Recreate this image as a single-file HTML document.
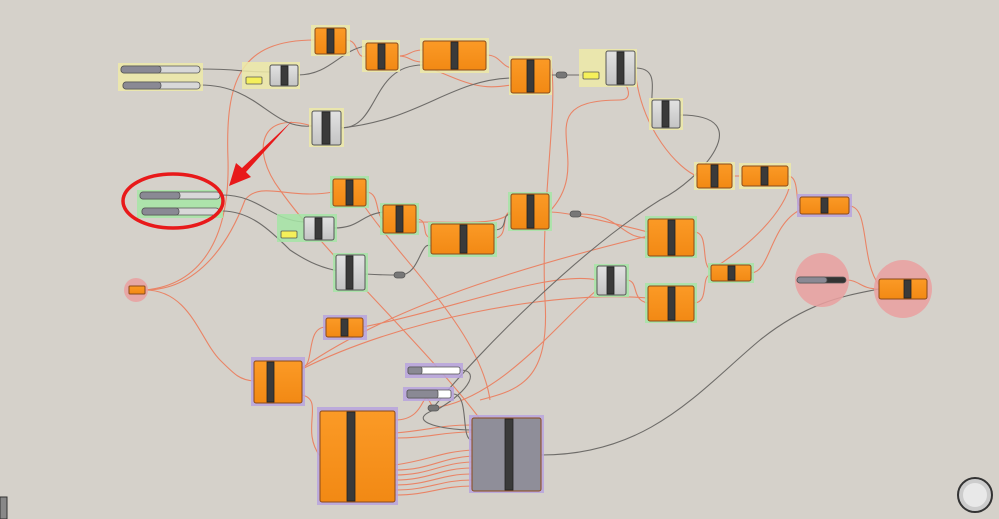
<!DOCTYPE html><html><head><style>body{margin:0;background:#d5d1ca}svg{display:block}</style></head><body>
<svg width="999" height="519" viewBox="0 0 999 519" xmlns="http://www.w3.org/2000/svg">
<rect width="999" height="519" fill="#d5d1ca"/>
<defs>
<linearGradient id="og" x1="0" y1="0" x2="0" y2="1"><stop offset="0" stop-color="#fb9a26"/><stop offset="1" stop-color="#f28914"/></linearGradient>
<linearGradient id="gg" x1="0" y1="0" x2="0" y2="1"><stop offset="0" stop-color="#e2e2e2"/><stop offset="1" stop-color="#c4c4c4"/></linearGradient>
</defs>
<!-- wires -->
<g fill="none" stroke="#ec7c5c" stroke-width="1.1" opacity="0.9">
<path d="M315 40 C240 40 225 80 228 160 C230 240 200 285 145 290"/>
<path d="M346 40 C360 40 355 60 366 56"/>
<path d="M398 56 C410 56 410 50 423 50"/>
<path d="M398 56 C410 56 410 62 423 62"/>
<path d="M486 55 C500 55 500 65 511 68"/>
<path d="M423 65 C470 85 480 90 511 85"/>
<path d="M312 126 C260 110 250 150 280 190 C330 260 420 340 480 419"/>
<path d="M145 290 C200 290 230 240 245 200 C260 180 290 200 333 192"/>
<path d="M145 290 C190 290 200 340 220 360 C235 375 240 380 254 381"/>
<path d="M366 192 C380 192 375 215 383 219"/>
<path d="M416 219 C430 219 420 236 431 238"/>
<path d="M416 222 C470 222 500 225 511 212"/>
<path d="M494 238 C510 238 500 212 511 212"/>
<path d="M549 212 C600 160 520 100 620 100 C640 100 620 70 606 68"/>
<path d="M635 68 C640 130 680 170 697 176"/>
<path d="M732 176 C740 176 735 176 742 176"/>
<path d="M788 176 C795 176 790 220 711 270"/>
<path d="M788 176 C800 176 795 205 800 206"/>
<path d="M849 206 C870 206 860 260 879 285"/>
<path d="M846 280 C860 280 860 289 879 289"/>
<path d="M751 273 C770 273 770 225 800 210"/>
<path d="M549 212 C570 212 620 225 648 232"/>
<path d="M694 232 C710 232 700 265 711 270"/>
<path d="M694 303 C710 303 700 275 711 275"/>
<path d="M626 280 C640 280 630 300 648 303"/>
<path d="M580 214 C620 214 620 238 648 238"/>
<path d="M302 368 C400 300 550 260 648 236"/>
<path d="M302 369 C400 320 550 290 648 298"/>
<path d="M363 327 C450 310 550 270 597 280"/>
<path d="M302 367 C315 367 305 327 326 327"/>
<path d="M302 395 C325 400 300 430 320 456"/>
<path d="M395 420 C430 420 420 380 433 408"/>
<path d="M433 408 C500 400 560 320 597 290"/>
<path d="M550 60 C560 100 540 200 545 300 C550 380 520 390 480 400"/>
<path d="M395 433 C430 430 440 425 472 425"/>
<path d="M395 438 C430 438 440 432 472 432"/>
<path d="M395 465 C430 460 440 452 472 450"/>
<path d="M395 470 C430 470 440 458 472 456"/>
<path d="M395 475 C430 475 440 463 472 462"/>
<path d="M395 480 C430 480 440 468 472 468"/>
<path d="M395 485 C430 485 440 474 472 474"/>
<path d="M395 490 C430 490 440 480 472 480"/>
<path d="M395 495 C430 495 440 486 472 486"/>
<path d="M360 200 C400 260 480 330 490 400"/>
</g>
<g fill="none" stroke="#6e6c69" stroke-width="1.1">
<path d="M200 69 C240 69 240 72 270 72"/>
<path d="M298 75 C330 75 340 50 366 46"/>
<path d="M200 85 C260 85 270 130 312 126"/>
<path d="M341 128 C380 128 370 65 423 65"/>
<path d="M341 128 C420 120 450 80 511 78"/>
<path d="M550 75 C580 75 580 75 583 75"/>
<path d="M635 68 C660 68 650 90 652 110"/>
<path d="M680 115 C760 115 700 180 660 200 C580 250 480 350 433 408"/>
<path d="M222 195 C260 195 270 220 304 222"/>
<path d="M222 211 C250 211 270 230 290 250 C320 270 340 275 400 275 C420 275 420 240 431 246"/>
<path d="M334 228 C360 228 360 215 383 212"/>
<path d="M494 230 C510 230 500 214 511 214"/>
<path d="M460 370 C480 370 470 390 440 408 C400 420 440 430 472 430"/>
<path d="M453 394 C470 394 460 440 472 440"/>
<path d="M541 455 C650 455 700 390 760 340 C810 300 850 295 879 289"/>
</g>
<!-- groups -->
<g opacity="0.85">
<rect x="118" y="63" width="85" height="28" fill="#eeeaa8"/>
<rect x="242" y="62" width="58" height="27" fill="#eeeaa8"/>
<rect x="311" y="25" width="39" height="31" fill="#eeeaa8"/>
<rect x="362" y="40" width="38" height="32" fill="#eeeaa8"/>
<rect x="420" y="38" width="69" height="35" fill="#eeeaa8"/>
<rect x="509" y="56" width="43" height="39" fill="#eeeaa8"/>
<rect x="579" y="49" width="58" height="38" fill="#eeeaa8"/>
<rect x="309" y="108" width="35" height="39" fill="#eeeaa8"/>
<rect x="649" y="98" width="34" height="32" fill="#eeeaa8"/>
<rect x="694" y="162" width="41" height="28" fill="#eeeaa8"/>
<rect x="739" y="163" width="52" height="26" fill="#eeeaa8"/>
<rect x="137" y="190" width="86" height="28" fill="#a6e6a6"/>
<rect x="330" y="176" width="39" height="32" fill="#a6e6a6"/>
<rect x="277" y="214" width="60" height="28" fill="#a6e6a6"/>
<rect x="380" y="203" width="39" height="32" fill="#a6e6a6"/>
<rect x="428" y="222" width="69" height="35" fill="#a6e6a6"/>
<rect x="508" y="192" width="44" height="39" fill="#a6e6a6"/>
<rect x="333" y="253" width="35" height="39" fill="#a6e6a6"/>
<rect x="645" y="216" width="52" height="42" fill="#a6e6a6"/>
<rect x="594" y="264" width="35" height="33" fill="#a6e6a6"/>
<rect x="645" y="283" width="52" height="40" fill="#a6e6a6"/>
<rect x="708" y="263" width="46" height="20" fill="#a6e6a6"/>
<rect x="797" y="194" width="55" height="23" fill="#b8a4de"/>
<rect x="323" y="315" width="44" height="25" fill="#b8a4de"/>
<rect x="251" y="357" width="54" height="49" fill="#b8a4de"/>
<rect x="317" y="407" width="81" height="98" fill="#b8a4de"/>
<rect x="405" y="363" width="58" height="15" fill="#b8a4de"/>
<rect x="403" y="387" width="51" height="14" fill="#b8a4de"/>
<rect x="469" y="415" width="75" height="78" fill="#b8a4de"/>
<circle cx="822" cy="280" r="27" fill="#eaa0a0"/>
<circle cx="903" cy="289" r="29" fill="#eaa0a0"/>
<circle cx="136" cy="290" r="12" fill="#eaa0a0"/>
</g>
<!-- orange comps -->
<g stroke="#8a4a1a" stroke-width="1">
<rect x="315" y="28" width="31" height="26" rx="2" fill="url(#og)"/>
<rect x="366" y="43" width="32" height="27" rx="2" fill="url(#og)"/>
<rect x="423" y="41" width="63" height="29" rx="2" fill="url(#og)"/>
<rect x="511" y="59" width="39" height="34" rx="2" fill="url(#og)"/>
<rect x="697" y="164" width="35" height="24" rx="2" fill="url(#og)"/>
<rect x="742" y="166" width="46" height="20" rx="2" fill="url(#og)"/>
<rect x="333" y="179" width="33" height="27" rx="2" fill="url(#og)"/>
<rect x="383" y="205" width="33" height="28" rx="2" fill="url(#og)"/>
<rect x="431" y="224" width="63" height="30" rx="2" fill="url(#og)"/>
<rect x="511" y="194" width="38" height="35" rx="2" fill="url(#og)"/>
<rect x="648" y="219" width="46" height="37" rx="2" fill="url(#og)"/>
<rect x="648" y="286" width="46" height="35" rx="2" fill="url(#og)"/>
<rect x="711" y="265" width="40" height="16" rx="2" fill="url(#og)"/>
<rect x="800" y="197" width="49" height="17" rx="2" fill="url(#og)"/>
<rect x="879" y="279" width="48" height="20" rx="2" fill="url(#og)"/>
<rect x="129" y="286" width="16" height="8" rx="1" fill="url(#og)"/>
<rect x="326" y="318" width="37" height="19" rx="2" fill="url(#og)"/>
<rect x="254" y="361" width="48" height="42" rx="2" fill="url(#og)"/>
<rect x="320" y="411" width="75" height="91" rx="2" fill="url(#og)"/>
<rect x="472" y="418" width="69" height="73" rx="2" fill="#8f8e99"/>
<rect x="270" y="65" width="28" height="21" rx="2" fill="url(#gg)" stroke="#555"/>
<rect x="606" y="51" width="29" height="34" rx="2" fill="url(#gg)" stroke="#555"/>
<rect x="312" y="111" width="29" height="34" rx="2" fill="url(#gg)" stroke="#555"/>
<rect x="652" y="100" width="28" height="28" rx="2" fill="url(#gg)" stroke="#555"/>
<rect x="304" y="217" width="30" height="23" rx="2" fill="url(#gg)" stroke="#555"/>
<rect x="336" y="255" width="29" height="35" rx="2" fill="url(#gg)" stroke="#555"/>
<rect x="597" y="266" width="29" height="29" rx="2" fill="url(#gg)" stroke="#555"/>
</g>
<!-- bars -->
<g fill="#3a3a3a" stroke="#222" stroke-width="0.8">
<rect x="327" y="29" width="7" height="24"/><rect x="378" y="44" width="7" height="25"/>
<rect x="451" y="42" width="7" height="27"/><rect x="527" y="60" width="7" height="32"/>
<rect x="711" y="165" width="7" height="22"/><rect x="761" y="167" width="7" height="18"/>
<rect x="346" y="180" width="7" height="25"/><rect x="396" y="206" width="7" height="26"/>
<rect x="460" y="225" width="7" height="28"/><rect x="527" y="195" width="7" height="33"/>
<rect x="668" y="220" width="7" height="35"/><rect x="668" y="287" width="7" height="33"/>
<rect x="728" y="266" width="7" height="14"/><rect x="821" y="198" width="7" height="15"/>
<rect x="904" y="280" width="7" height="18"/><rect x="341" y="319" width="7" height="17"/>
<rect x="267" y="362" width="7" height="40"/><rect x="347" y="412" width="8" height="89"/>
<rect x="505" y="419" width="8" height="71"/>
<rect x="281" y="66" width="7" height="19"/><rect x="617" y="52" width="7" height="32"/>
<rect x="322" y="112" width="8" height="32"/><rect x="662" y="101" width="7" height="26"/>
<rect x="315" y="218" width="7" height="21"/><rect x="346" y="256" width="7" height="33"/>
<rect x="607" y="267" width="7" height="27"/>
</g>
<!-- sliders -->
<g stroke="#555" stroke-width="0.8">
<rect x="121" y="66" width="79" height="7" rx="3" fill="#d8d8d8"/><rect x="121" y="66" width="40" height="7" rx="3" fill="#8a8994"/>
<rect x="123" y="82" width="77" height="7" rx="3" fill="#d8d8d8"/><rect x="123" y="82" width="38" height="7" rx="3" fill="#8a8994"/>
<rect x="140" y="192" width="80" height="7" rx="3" fill="#d8d8d8"/><rect x="140" y="192" width="40" height="7" rx="3" fill="#8a8994"/>
<rect x="142" y="208" width="77" height="7" rx="3" fill="#d8d8d8"/><rect x="142" y="208" width="37" height="7" rx="3" fill="#8a8994"/>
<rect x="797" y="277" width="49" height="6" rx="3" fill="#333"/><rect x="797" y="277" width="30" height="6" rx="3" fill="#8a8994"/>
<rect x="408" y="367" width="52" height="7" rx="2" fill="#fff"/><rect x="408" y="367" width="14" height="7" rx="2" fill="#8a8994"/>
<rect x="407" y="390" width="44" height="8" rx="2" fill="#fff"/><rect x="407" y="390" width="31" height="8" rx="2" fill="#8a8994"/>
<rect x="246" y="77" width="16" height="7" rx="1" fill="#f5f05a"/>
<rect x="583" y="72" width="16" height="7" rx="1" fill="#f5f05a"/>
<rect x="281" y="231" width="16" height="7" rx="1" fill="#f5f05a"/>
<rect x="556" y="72" width="11" height="6" rx="3" fill="#777"/>
<rect x="570" y="211" width="11" height="6" rx="3" fill="#777"/>
<rect x="394" y="272" width="11" height="6" rx="3" fill="#777"/>
<rect x="428" y="405" width="11" height="6" rx="3" fill="#777"/>
</g>
<!-- annotation -->
<ellipse cx="173" cy="201" rx="50" ry="27" fill="none" stroke="#e8191a" stroke-width="3.5"/>
<path d="M292 121 L242 168 L236 163 L229 186 L251 177 L246 172 Z" fill="#e8191a"/>
<rect x="0" y="497" width="7" height="22" fill="#888" stroke="#333"/>
<circle cx="975" cy="495" r="17" fill="#ccc" stroke="#333" stroke-width="2"/>
<circle cx="975" cy="495" r="12" fill="#e8e8e8"/>
</svg>
</body></html>
